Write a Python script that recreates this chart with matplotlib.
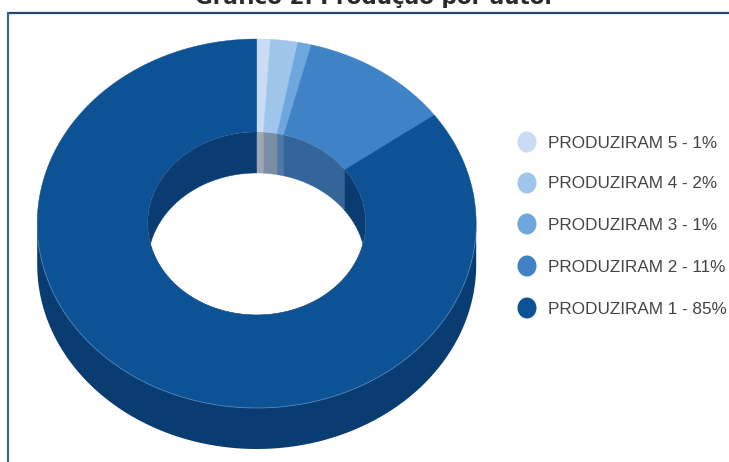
import numpy as np
import matplotlib
matplotlib.use("Agg")
import matplotlib.pyplot as plt
from matplotlib.patches import Ellipse, Polygon

labels = ["PRODUZIRAM 5", "PRODUZIRAM 4", "PRODUZIRAM 3", "PRODUZIRAM 2", "PRODUZIRAM 1"]
values = [1, 2, 1, 11, 85]
top_colors = ["#c9dcf3", "#9fc5ea", "#6ea6de", "#3f82c6", "#0e5296"]
wall_colors = ["#9fa7b2", "#7c8ea6", "#4f78a6", "#33659a", "#0a3c72"]
side_color = "#093c70"

# donut geometry, in pixels
cx, cy = 256.7, 223.5
rx, ry = 219.5, 184.5
hole_rx, hole_ry = 109, 91.5
depth = 41


def arc(a0, a1, w, h, dy=0):
    t = np.radians(np.linspace(a0, a1, 200))
    return np.column_stack([cx + w * np.sin(t), cy + dy - h * np.cos(t)])


fig = plt.figure(figsize=(7.29, 4.62), dpi=100)
ax = fig.add_axes([0, 0, 1, 1])
ax.set_xlim(0, 729)
ax.set_ylim(462, 0)
ax.axis("off")

# frame runs off the right and bottom of the figure
ax.plot([7, 729], [13, 13], color="#24466f", lw=1.6, solid_capstyle="butt")
ax.plot([8, 8], [12.2, 462], color="#3f6390", lw=1.6, solid_capstyle="butt")

# title sits partly above the top edge
ax.text(375, 3.5, "Gráfico 2. Produção por autor", ha="center", va="baseline",
        family="DejaVu Sans", weight="bold", fontsize=15.5, color="#2b2b2b", clip_on=False)

angles = np.concatenate([[0], np.cumsum(values)]) * 3.6

# outer wall, only the front half shows
front = arc(90, 270, rx, ry)
ax.add_patch(Polygon(np.vstack([front, arc(270, 90, rx, ry, depth)]), fc=side_color, ec="none"))

hole_clip = Ellipse((cx, cy), 2 * hole_rx, 2 * hole_ry, transform=ax.transData)

for i in range(len(values)):
    a0, a1 = angles[i], angles[i + 1]
    # top face
    ring = np.vstack([arc(a0, a1, rx, ry), arc(a1, a0, hole_rx, hole_ry)])
    ax.add_patch(Polygon(ring, fc=top_colors[i], ec=top_colors[i], lw=0.3))
    # inner wall seen through the hole
    wall = np.vstack([arc(a0, a1, hole_rx, hole_ry), arc(a1, a0, hole_rx, hole_ry, depth)])
    p = Polygon(wall, fc=wall_colors[i], ec=wall_colors[i], lw=0.3)
    ax.add_patch(p)
    p.set_clip_path(hole_clip)

# thin light rim where the top face meets the outer wall
rim = arc(95, 265, rx, ry)
ax.plot(rim[:, 0], rim[:, 1], color="#5f8fbf", lw=0.6, alpha=0.7)

# legend
legend_y = [142, 183, 224, 266, 308]
for name, v, c, y in zip(labels, values, top_colors, legend_y):
    ax.add_patch(Ellipse((527, y), 19, 21, fc=c, ec="none"))
    ax.text(548, y + 1, f"{name} - {v}%", ha="left", va="center",
            family="Liberation Sans", fontsize=12.3, color="#444444")

fig.savefig("out.png", dpi=100)
